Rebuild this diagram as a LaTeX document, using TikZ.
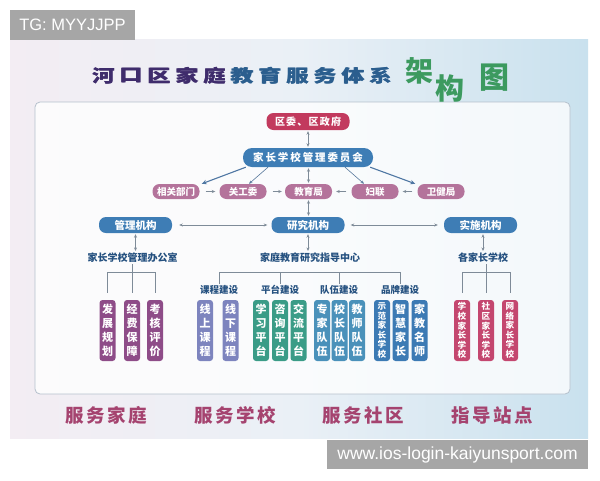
\documentclass[tikz,border=0pt]{standalone}
\usepackage{fontspec}
\usepackage{graphicx}
\setmainfont{Liberation Sans}
\newfontfamily\cjk{Noto Sans CJK SC}
\usetikzlibrary{arrows.meta}
\definecolor{crimson}{HTML}{C23A5E}
\definecolor{nodeblue}{HTML}{3E7DB5}
\definecolor{mauve}{HTML}{B4739B}
\definecolor{purpleb}{HTML}{8E4C88}
\definecolor{lavb}{HTML}{7D84BE}
\definecolor{tealb}{HTML}{3A9C87}
\definecolor{steelb}{HTML}{4A91BA}
\definecolor{brandb}{HTML}{3C7AB4}
\definecolor{redb}{HTML}{C4476F}
\definecolor{darkblue}{HTML}{24507F}
\definecolor{bottomtxt}{HTML}{A5436F}
\definecolor{linegray}{HTML}{7E8B98}
\definecolor{diagblue}{HTML}{4F77A3}
\definecolor{titlepurple}{HTML}{3F2C6C}
\definecolor{titleblue}{HTML}{2B5E8E}
\definecolor{titlegreen}{HTML}{3C9A5F}
\definecolor{labelgray}{HTML}{A6A6A6}
\definecolor{bgleft}{HTML}{F3EDF3}
\definecolor{bgmid}{HTML}{EAF0F6}
\definecolor{bgright}{HTML}{C9E1EE}
\definecolor{panelline}{HTML}{B5C0CC}
\newcommand\heavych[1]{\rlap{\scalebox{1.3}[1]{#1}}\kern0.7pt\scalebox{1.3}[1]{#1}}
\begin{document}
\begin{tikzpicture}[x=1pt,y=-1pt,
  pill/.style={fill=#1, text=white, rounded corners=7pt, inner sep=0pt,
    font=\cjk\bfseries\fontsize{9.5}{11}\selectfont},
  conn/.style={draw=linegray, line width=0.6pt,
    {Stealth[length=3.5pt,width=3pt]}-{Stealth[length=3.5pt,width=3pt]}},
  oneway/.style={draw=linegray, line width=0.6pt, -{Stealth[length=3.5pt,width=3pt]}},
  diag/.style={draw=diagblue, line width=1.1pt, -{Stealth[length=5pt,width=4.5pt]}},
  diagthin/.style={draw=diagblue!80!gray, line width=0.6pt, -{Stealth[length=3.5pt,width=3pt]}},
  vbox/.style={fill=#1, text=white, minimum width=16pt, minimum height=61pt,
    inner sep=0pt, rounded corners=3pt, align=center,
    font=\cjk\bfseries\fontsize{11}{14}\selectfont},
  small/.style={font=\cjk\bfseries\fontsize{8.6}{9.6}\selectfont},
  lbl/.style={text=darkblue, inner sep=1pt, font=\cjk\bfseries\fontsize{10}{12}\selectfont},
  sublbl/.style={text=darkblue, inner sep=1pt, font=\cjk\bfseries\fontsize{9.5}{11}\selectfont},
  bracket/.style={draw=linegray, line width=1pt},
  bottom/.style={text=bottomtxt, inner sep=0pt,
    font=\cjk\bfseries\fontsize{18.5}{20}\selectfont\addfontfeature{LetterSpace=14}},
  title1/.style={text=titlepurple, inner sep=0pt, font=\cjk\bfseries\fontsize{17.5}{18}\selectfont},
  title2/.style={text=titleblue, inner sep=0pt, font=\cjk\bfseries\fontsize{17.5}{18}\selectfont},
  titleg/.style={text=titlegreen, inner sep=0pt, font=\cjk\bfseries\fontsize{#1}{#1}\selectfont},
  graylabel/.style={fill=labelgray, text=white, inner sep=0pt}
]
\useasboundingbox (0,0) rectangle (600,480);
\fill[white] (0,0) rectangle (600,480);

% poster background
\shade[left color=bgleft, right color=bgright, middle color=bgmid] (10,39.5) rectangle (588,438);
% inner panel
\draw[draw=panelline, line width=0.8pt, fill=white, fill opacity=0.78, rounded corners=5pt]
  (35,102) rectangle (570,394);

% title
\foreach \c [count=\i from 0] in {河,口,区,家,庭}
  \node[title1] (ta\i) at (104+\i*27.7,76) {\heavych{\c}};
\foreach \c [count=\i from 5] in {教,育,服,务,体,系}
  \node[title2] (tb\i) at (104+\i*27.7,76) {\heavych{\c}};
\node[titleg=28] (tjia) at (419,71) {架};
\node[titleg=29] (tgou) at (450,88) {构};
\node[titleg=30] (ttu) at (494,78) {图};

% top nodes
\node[pill=crimson, minimum width=83pt, minimum height=17pt,
  font=\cjk\bfseries\fontsize{10}{11}\selectfont\addfontfeature{LetterSpace=12}] (qw) at (308,121.5) {区委、区政府};
\node[pill=nodeblue, minimum width=130pt, minimum height=19pt, rounded corners=9pt,
  font=\cjk\bfseries\fontsize{10.5}{12}\selectfont\addfontfeature{LetterSpace=18}] (comm) at (308,157.5) {家长学校管理委员会};

\node[pill=mauve, minimum width=47pt, minimum height=15pt] (xg) at (176,191.5) {相关部门};
\node[pill=mauve, minimum width=47pt, minimum height=15pt] (gg) at (243,191.5) {关工委};
\node[pill=mauve, minimum width=47pt, minimum height=15pt] (jy) at (308.5,191.5) {教育局};
\node[pill=mauve, minimum width=47pt, minimum height=15pt] (fl) at (375,191.5) {妇联};
\node[pill=mauve, minimum width=47pt, minimum height=15pt] (wj) at (441,191.5) {卫健局};

\node[pill=nodeblue, minimum width=73pt, minimum height=16pt,
  font=\cjk\bfseries\fontsize{10.5}{12}\selectfont] (gl) at (135.5,225) {管理机构};
\node[pill=nodeblue, minimum width=73pt, minimum height=16pt,
  font=\cjk\bfseries\fontsize{10.5}{12}\selectfont] (yj) at (308,225) {研究机构};
\node[pill=nodeblue, minimum width=73pt, minimum height=16pt,
  font=\cjk\bfseries\fontsize{10.5}{12}\selectfont] (ss) at (480.5,225) {实施机构};

% top connectors
\draw[conn, shorten <=1pt, shorten >=1pt] (qw.south) -- (qw.south |- comm.north);
\draw[conn, shorten <=1pt, shorten >=1pt] (comm.south -| jy) -- (jy.north);
\draw[conn, shorten <=1pt, shorten >=1pt] (jy.south) -- (jy.south |- yj.north);
\draw[diag] ([xshift=3pt]comm.south west) -- ([xshift=2pt]xg.north east);
\draw[diagthin] ([xshift=-40pt]comm.south) -- ([xshift=6pt]gg.north);
\draw[diagthin] ([xshift=37pt]comm.south) -- ([xshift=-11pt]fl.north);
\draw[diag] ([xshift=-3pt]comm.south east) -- ([xshift=-2pt]wj.north west);
\draw[oneway, shorten <=6pt, shorten >=4pt] (xg.east) -- (gg.west);
\draw[oneway, shorten <=6pt, shorten >=3pt] (gg.east) -- (jy.west);
\draw[oneway, shorten <=5pt, shorten >=4pt] (fl.west) -- (jy.east);
\draw[oneway, shorten <=5pt, shorten >=4pt] (wj.west) -- (fl.east);
\draw[conn, shorten <=7pt, shorten >=4pt] (gl.east) -- (yj.west);
\draw[conn, shorten <=6pt, shorten >=6pt] (yj.east) -- (ss.west);

% level 3 labels
\node[lbl] (off) at (132.5,258) {家长学校管理办公室};
\node[lbl] (yc) at (310,258) {家庭教育研究指导中心};
\node[lbl] (gj) at (483,258) {各家长学校};
\draw[conn, shorten <=1pt, shorten >=1pt] (off.north -| gl.south) -- (gl.south);
\draw[conn, shorten <=1pt, shorten >=1pt] (yj.south) -- (yj.south |- yc.north);
\draw[conn, shorten <=1pt, shorten >=1pt] (gj.north) -- (gj.north |- ss.south);

% management boxes
\node[vbox=purpleb] (m1) at (107.5,330.5) {发\\展\\规\\划};
\node[vbox=purpleb] (m2) at (132,330.5) {经\\费\\保\\障};
\node[vbox=purpleb] (m3) at (155,330.5) {考\\核\\评\\价};
\coordinate (barA) at (0,272.7);
\draw[bracket] ([yshift=7pt]m1.north) |- (barA -| m3.north) -- ([yshift=7pt]m3.north);
\draw[bracket] (off.south -| m2.north) -- ([yshift=7pt]m2.north);

% research sub-labels
\node[sublbl] (kc) at (219,290) {课程建设};
\node[sublbl] (pt) at (280,290) {平台建设};
\node[sublbl] (dw) at (339,290) {队伍建设};
\node[sublbl] (pp) at (400,290) {品牌建设};
\coordinate (barB) at (0,272.3);
\draw[bracket] (kc.north) |- (barB -| pp.north) -- (pp.north);
\draw[bracket] (pt.north) -- (pt.north |- barB);
\draw[bracket] (dw.north) -- (dw.north |- barB);

\node[vbox=lavb] (k1) at (205,330.5) {线\\上\\课\\程};
\node[vbox=lavb] (k2) at (230.5,330.5) {线\\下\\课\\程};
\node[vbox=tealb] (p1) at (261,330.5) {学\\习\\平\\台};
\node[vbox=tealb] (p2) at (280,330.5) {咨\\询\\平\\台};
\node[vbox=tealb] (p3) at (298.5,330.5) {交\\流\\平\\台};
\node[vbox=steelb] (d1) at (322,330.5) {专\\家\\队\\伍};
\node[vbox=steelb] (d2) at (339.5,330.5) {校\\长\\队\\伍};
\node[vbox=steelb] (d3) at (357,330.5) {教\\师\\队\\伍};
\node[vbox=brandb, small] (b1) at (382,330.5) {示\\范\\家\\长\\学\\校};
\node[vbox=brandb] (b2) at (400.5,330.5) {智\\慧\\家\\长};
\node[vbox=brandb] (b3) at (419.5,330.5) {家\\教\\名\\师};

% implementation boxes
\node[vbox=redb, small] (s1) at (462,330.5) {学\\校\\家\\长\\学\\校};
\node[vbox=redb, small] (s2) at (486,330.5) {社\\区\\家\\长\\学\\校};
\node[vbox=redb, small] (s3) at (510,330.5) {网\\络\\家\\长\\学\\校};
\draw[bracket] ([yshift=7pt]s1.north) |- (barA -| s3.north) -- ([yshift=7pt]s3.north);
\draw[bracket] (gj.south -| s2.north) -- ([yshift=7pt]s2.north);

% bottom slogans
\node[bottom] (f1) at (106,415) {服务家庭};
\node[bottom] (f2) at (235,415) {服务学校};
\node[bottom] (f3) at (363,415) {服务社区};
\node[bottom] (f4) at (492,415) {指导站点};

% watermark labels
\node[graylabel, minimum width=125pt, minimum height=29.5pt, font=\fontsize{16.5}{18}\selectfont] (tglabel) at (72.5,24.75) {TG: MYYJJPP};
\node[graylabel, minimum width=261pt, minimum height=29pt, font=\fontsize{17.5}{19}\selectfont] (www) at (457.5,454.5) {www.ios-login-kaiyunsport.com};
\end{tikzpicture}
\end{document}
